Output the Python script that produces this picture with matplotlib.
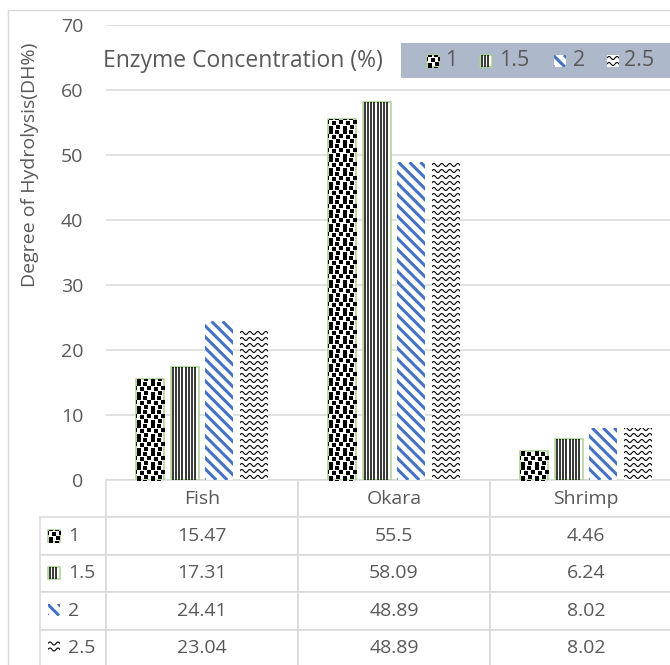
import matplotlib
matplotlib.use("Agg")
import matplotlib.pyplot as plt
import numpy as np
from matplotlib.patches import Rectangle
from matplotlib.lines import Line2D
from matplotlib.collections import LineCollection
from matplotlib.transforms import IdentityTransform

categories = ["Fish", "Okara", "Shrimp"]
concentrations = ["1", "1.5", "2", "2.5"]
dh_1 = [15.47, 55.5, 4.46]
dh_15 = [17.31, 58.09, 6.24]
dh_2 = [24.41, 48.89, 8.02]
dh_25 = [23.04, 48.89, 8.02]
series = [dh_1, dh_15, dh_2, dh_25]
patterns = ["dots", "vlines", "diag", "wave"]
edges = ["#a9d18e", "#a9d18e", "none", "none"]

W, H = 670, 665
GRAY = "#595959"
GRID = "#d9d9d9"
BLUE = "#4472c4"
FS = 14

plt.rcParams["font.family"] = ["Open Sans", "DejaVu Sans"]
fig = plt.figure(figsize=(W / 100, H / 100), dpi=100)


def fx(px):
    return px / W


def fy(py):
    return 1 - py / H


# confetti tile (14x14 px) for the "1" series
CONFETTI = [(0, 0), (7, 1), (3, 5), (10, 6), (0, 10), (6, 10)]


def texture(patch, kind):
    # Excel-like fill pattern clipped to a patch, built in pixel space
    bb = patch.get_window_extent()
    x0, y0, x1, y1 = bb.x0, bb.y0, bb.x1, bb.y1
    tr = IdentityTransform()
    if kind == "dots":
        xs, ys = [], []
        for ty in np.arange(y0 - 14, y1, 14):
            for tx in np.arange(x0 - 14, x1, 14):
                for dx, dy in CONFETTI:
                    xs.append(tx + dx + 2.5)
                    ys.append(ty + dy + 2.5)
        art = Line2D(xs, ys, ls="none", marker="s", ms=2.6, mew=0,
                     color="black", transform=tr)
    elif kind == "vlines":
        segs = [[(xx, y0), (xx, y1)] for xx in np.arange(x0 + 2, x1 - 1, 3.2)]
        art = LineCollection(segs, colors="black", linewidths=1.1, transform=tr)
    elif kind == "diag":
        segs = [[(c - y1, y1), (c - y0, y0)]
                for c in np.arange(x0 + y0, x1 + y1 + 11, 11)]
        art = LineCollection(segs, colors=BLUE, linewidths=2.2, transform=tr)
    else:
        t = np.arange(x0, x1 + 1, 0.5)
        segs = [np.column_stack([t, yy + 1.5 * np.sin(2 * np.pi * (t - x0) / 8)])
                for yy in np.arange(y0 + 3, y1, 6)]
        art = LineCollection(segs, colors="black", linewidths=0.8, transform=tr)
    art.set_clip_path(patch)
    fig.add_artist(art)


# outer chart border
fig.add_artist(Rectangle((fx(8), fy(700)), 2, fy(10) - fy(700),
                         transform=fig.transFigure, fill=False,
                         edgecolor=GRID, lw=1))

# plot area: left 106px, right 682px, top 25px, bottom 480px
ax = fig.add_axes([fx(106), fy(480), fx(682 - 106), (480 - 25) / H])
x = np.arange(len(categories))
width = 0.146
pitch = 0.18
bars = []
for i, vals in enumerate(series):
    b = ax.bar(x + (i - 1.5) * pitch, vals, width, facecolor="white",
               edgecolor=edges[i], linewidth=1.1, zorder=2)
    bars.append(b)

ax.set_xlim(-0.5, 2.5)
ax.set_ylim(0, 70)
ax.set_yticks(range(0, 71, 10))
ax.set_xticks([])
ax.tick_params(axis="y", length=0, pad=16.5, labelsize=FS, labelcolor=GRAY)
for s in ax.spines.values():
    s.set_visible(False)
ax.yaxis.grid(True, color=GRID, lw=1.1)
ax.set_axisbelow(True)

for b, kind in zip(bars, patterns):
    for p in b.patches:
        texture(p, kind)

# y label
fig.text(fx(30), fy(165), "Degree of Hydrolysis(DH%)", rotation=90,
         ha="center", va="center", fontsize=FS, color=GRAY)

# data table (first column holds the series names)
cell_text = [[concentrations[i]] + [f"{v:g}" for v in vals]
             for i, vals in enumerate(series)]
tab = ax.table(cellText=cell_text, colLabels=[""] + categories,
               cellLoc="center", colWidths=[66, 192, 192, 192],
               bbox=[(40 - 106) / 576, -(667 - 480) / 455, 642 / 576, 187 / 455])
tab.auto_set_font_size(False)
for (r, c), cell in tab.get_celld().items():
    cell.set_edgecolor(GRID)
    cell.set_linewidth(1.1)
    cell.set_text_props(color=GRAY, fontsize=FS)
    if c == 0:
        cell._loc = "left"
        cell.PAD = 0.42
        cell.get_text().set_ha("left")
    if r == 0 and c == 0:
        cell.visible_edges = "open"

# legend: title and grey band with pattern keys
fig.text(fx(103), fy(61), "Enzyme Concentration (%)", ha="left",
         va="center", fontsize=16.5, color=GRAY)
fig.add_artist(Rectangle((fx(401), fy(78)), fx(300), (78 - 43) / H,
                         transform=fig.transFigure, facecolor="#adb9ca",
                         edgecolor="none"))
key_x = [427, 480, 554, 607]
lab_x = [445, 499, 573, 624]
keys = []
for i in range(4):
    k = Rectangle((fx(key_x[i]), fy(67)), fx(12), 12 / H,
                  transform=fig.transFigure, facecolor="white",
                  edgecolor=edges[i], lw=1.1)
    fig.add_artist(k)
    keys.append((k, patterns[i]))
    fig.text(fx(lab_x[i]), fy(61), concentrations[i], ha="left",
             va="center", fontsize=15.5, color=GRAY)

# keys inside the table's first column
row_mid = [535.5, 572.5, 609.5, 646.5]
for i in range(4):
    k = Rectangle((fx(48), fy(row_mid[i] + 6)), fx(12), 12 / H,
                  transform=fig.transFigure, facecolor="white",
                  edgecolor=edges[i], lw=1.1)
    fig.add_artist(k)
    keys.append((k, patterns[i]))

for k, kind in keys:
    texture(k, kind)

fig.savefig("out.png", dpi=100)
